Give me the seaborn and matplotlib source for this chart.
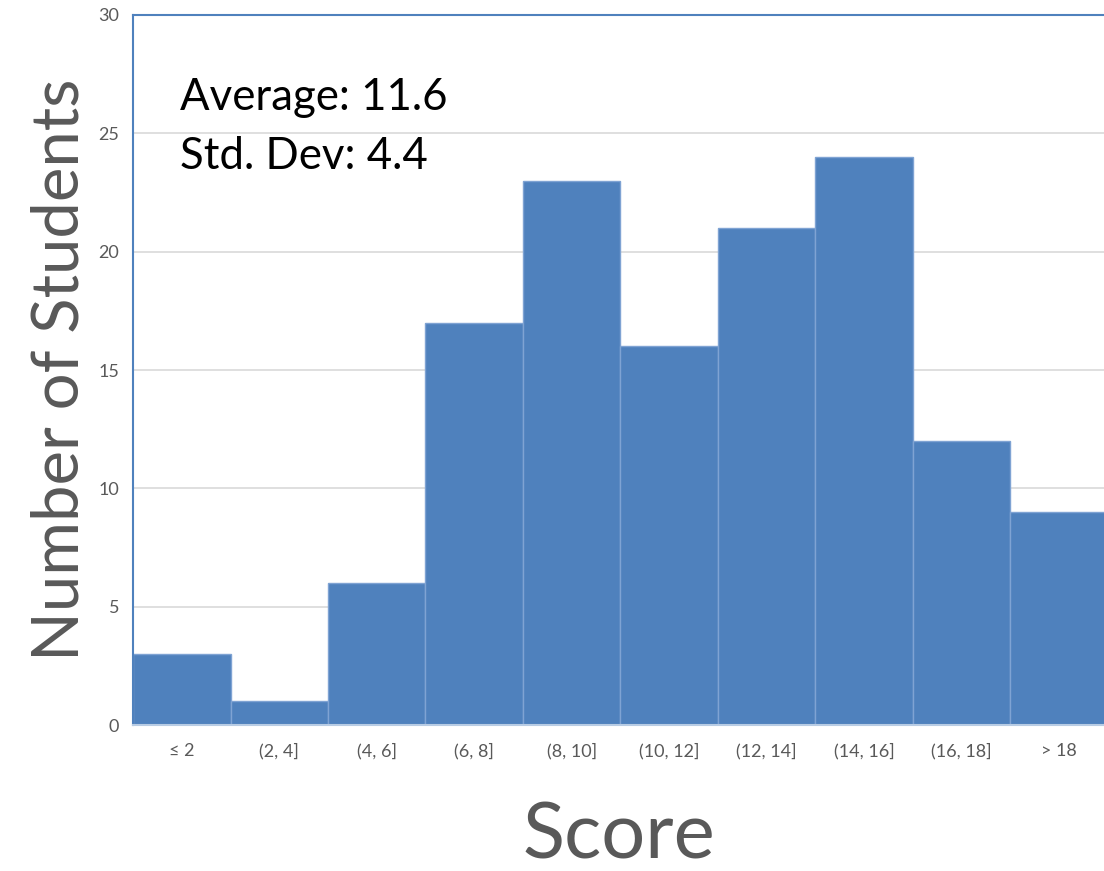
import matplotlib
matplotlib.use("Agg")
import matplotlib.pyplot as plt
import seaborn as sns
import pandas as pd

# score bins and student counts
bins = ['≤ 2', '(2, 4]', '(4, 6]', '(6, 8]', '(8, 10]', '(10, 12]',
        '(12, 14]', '(14, 16]', '(16, 18]', '> 18']
counts = [3, 1, 6, 17, 23, 16, 21, 24, 12, 9]
y_ticks = [0, 5, 10, 15, 20, 25, 30]
stats_text = ['Average: 11.6', 'Std. Dev: 4.4']

sns.set_style('white')
plt.rcParams['font.family'] = ['Lato', 'DejaVu Sans']

df = pd.DataFrame({'bin': bins, 'count': counts})

fig = plt.figure(figsize=(11.04, 8.71), dpi=100)
ax = fig.add_axes([0.1205, 0.1676, 0.8795, 0.8152])

sns.barplot(data=df, x='bin', y='count', color='#4f81bd', saturation=1,
            width=1.0, edgecolor='#7fa3d3', linewidth=1, ax=ax)

ax.set_ylim(0, 30)
ax.set_xlim(-0.5, 9.46)
ax.set_yticks(y_ticks)
ax.yaxis.grid(True, color='#d9d9d9', linewidth=1.2)
ax.set_axisbelow(True)

ax.tick_params(axis='both', length=0, labelsize=13, labelcolor='#595959')
ax.tick_params(axis='x', pad=13)
ax.tick_params(axis='y', pad=10)

for side in ['top', 'left']:
    ax.spines[side].set_color('#4f81bd')
    ax.spines[side].set_linewidth(1.5)
ax.spines['bottom'].set_color('#b8cce4')
ax.spines['bottom'].set_linewidth(1.5)
ax.spines['right'].set_visible(False)

ax.set_xlabel('Score', fontsize=56, color='#595959', labelpad=30)
ax.set_ylabel('Number of Students', fontsize=47, color='#595959', labelpad=6)

ax.text(0.048, 0.912, stats_text[0], transform=ax.transAxes, fontsize=31.5,
        color='black', va='top')
ax.text(0.048, 0.830, stats_text[1], transform=ax.transAxes, fontsize=31.5,
        color='black', va='top')

plt.savefig('out.png', dpi=100)
